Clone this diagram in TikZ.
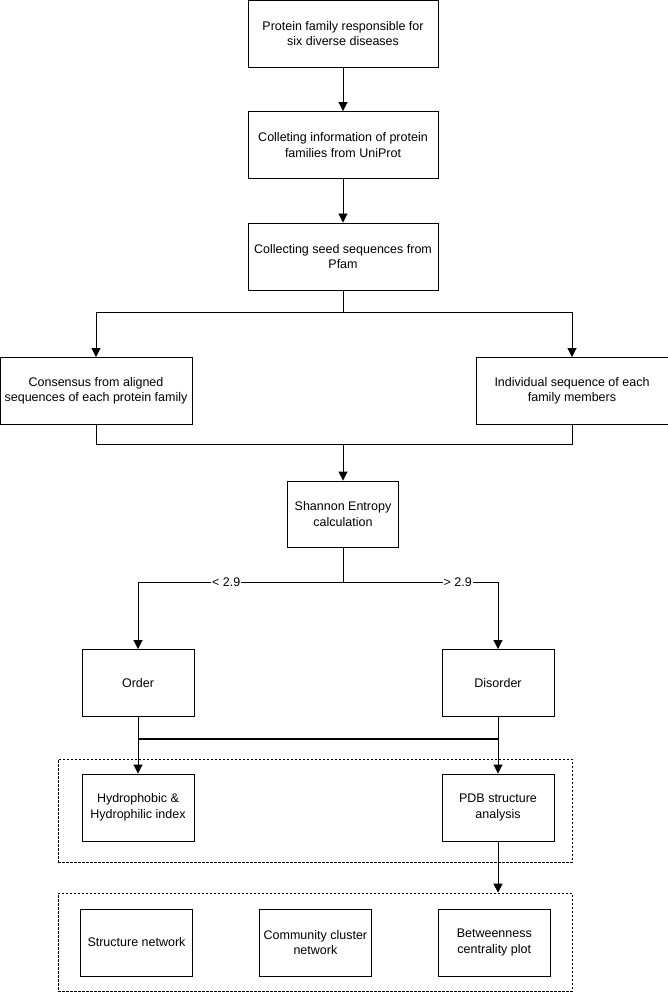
\documentclass[tikz,border=0pt]{standalone}
\usepackage{fontspec}
\setmainfont{Liberation Sans}
\usetikzlibrary{positioning,arrows.meta}

\begin{document}
\begin{tikzpicture}[x=1pt, y=-1pt, node distance=111.5pt,
    box/.style = {draw, line width=0.9pt, minimum width=190pt, minimum height=67pt, inner sep=2pt, align=center, font=\fontsize{12.5}{15.5}\selectfont},
    small/.style = {box, minimum width=112pt},
    group/.style = {draw, dashed, dash pattern=on 2.5pt off 1.5pt, line width=0.7pt, minimum width=514pt},
    arr/.style = {line width=0.9pt, -{Triangle[width=9pt,length=9pt]}},
    line/.style = {line width=0.9pt},
    lbl/.style = {fill=white, inner sep=1pt, font=\fontsize{12.5}{15}\selectfont}]
    \useasboundingbox (0,0) rectangle (668,992);

    \node[box] (family) at (343,33.5) {Protein family responsible for\\six diverse diseases};
    \node[box] (uniprot) [below of=family] {Colleting information of protein\\families from UniProt};
    \node[box] (pfam) [below of=uniprot] {Collecting seed sequences from\\Pfam};
    \node[box, minimum width=192pt] (consensus) at (96,391) {Consensus from aligned\\sequences of each protein family};
    \node[box, minimum width=192pt] (individual) at (572,391) {Individual sequence of each\\family members};
    \node[box, minimum width=111pt, minimum height=66pt] (shannon) at (343,514) {Shannon Entropy\\calculation};
    \node[small] (order) at (138,683) {Order};
    \node[small] (disorder) at (498,683) {Disorder};

    \node[group, minimum height=103pt] (props) at (315,810.5) {};
    \node[small] (hydro) at (138,807.5) {Hydrophobic \&\\Hydrophilic index};
    \node[small] (pdb) at (498,807.5) {PDB structure\\analysis};

    \node[group, minimum height=98pt] (nets) at (315,942) {};
    \node[small] (snet) at (136.5,942.5) {Structure network};
    \node[small] (cnet) [right=66pt of snet] {Community cluster\\network};
    \node[small] (bplot) [right=66pt of cnet] {Betweenness\\centrality plot};

    \coordinate (fork) at (343,312);
    \coordinate (join) at (343,444);
    \coordinate (thr) at (343,582);
    \coordinate (ox) at (138,739);
    \coordinate (dx) at (498,739);

    \draw[arr] (family) -- (uniprot);
    \draw[arr] (uniprot) -- (pfam);
    \draw[line] (pfam) -- (fork);
    \draw[arr] (fork) -| (consensus);
    \draw[arr] (fork) -| (individual);
    \draw[line] (consensus) |- (join);
    \draw[line] (individual) |- (join);
    \draw[arr] (join) -- (shannon);
    \draw[line] (shannon) -- (thr);
    \draw[arr] (thr) -| node[lbl, pos=0.285] {< 2.9} (order);
    \draw[arr] (thr) -| node[lbl, pos=0.37] {> 2.9} (disorder);
    \draw[arr] (order) -- (hydro);
    \draw[arr] (disorder) -- (pdb);
    \draw[line, line width=1.4pt] (ox) -- (dx);
    \draw[arr] (pdb) -- (pdb |- nets.north);
\end{tikzpicture}
\end{document}
